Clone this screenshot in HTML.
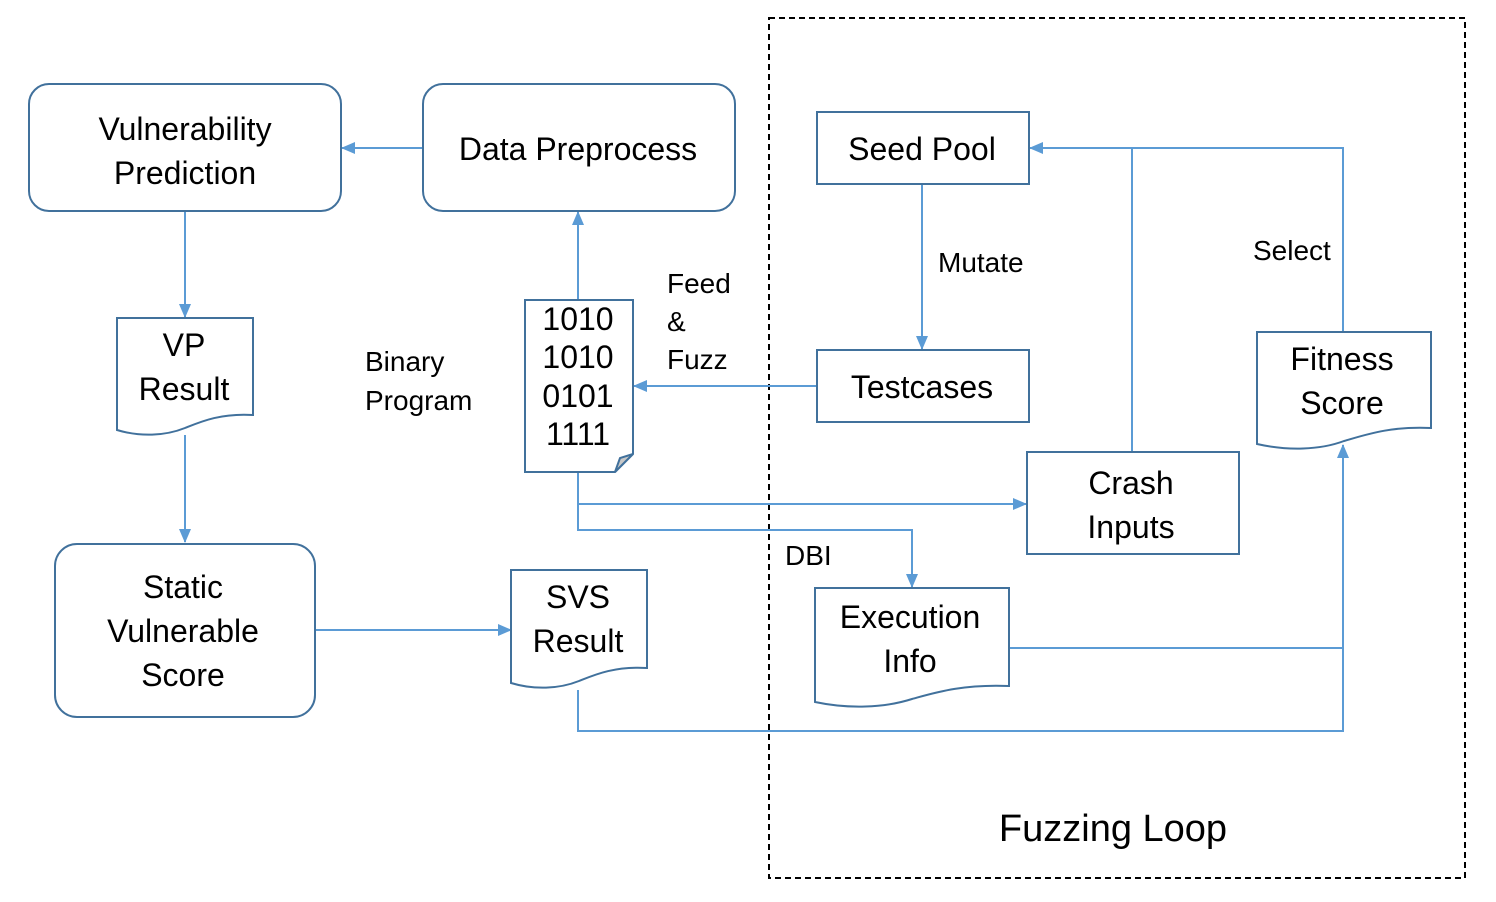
<!DOCTYPE html>
<html><head><style>body{margin:0;background:#fff}svg{display:block}text{font-family:"Liberation Sans",sans-serif;fill:#000}</style></head><body>
<svg width="1496" height="902" viewBox="0 0 1496 902" xmlns="http://www.w3.org/2000/svg">
<defs><marker id="a" markerWidth="14" markerHeight="12" refX="13" refY="6" orient="auto" markerUnits="userSpaceOnUse"><path d="M0,0 L14,6 L0,12 Z" fill="#5b9bd5"/></marker></defs>
<rect x="769" y="18" width="696" height="860" fill="none" stroke="#000" stroke-width="2" stroke-dasharray="6,4"/>
<g fill="none" stroke="#5b9bd5" stroke-width="2">
<line x1="423" y1="148" x2="342" y2="148" marker-end="url(#a)"/>
<line x1="185" y1="211" x2="185" y2="317" marker-end="url(#a)"/>
<line x1="185" y1="435" x2="185" y2="542" marker-end="url(#a)"/>
<line x1="315" y1="630" x2="511" y2="630" marker-end="url(#a)"/>
<line x1="578" y1="300" x2="578" y2="212" marker-end="url(#a)"/>
<line x1="817" y1="386" x2="634" y2="386" marker-end="url(#a)"/>
<line x1="922" y1="184" x2="922" y2="349" marker-end="url(#a)"/>
<polyline points="1132,452 1132,148"/>
<polyline points="1343,332 1343,148 1030,148" marker-end="url(#a)"/>
<polyline points="578,472 578,530 912,530 912,587" marker-end="url(#a)"/>
<line x1="578" y1="504" x2="1026" y2="504" marker-end="url(#a)"/>
<polyline points="1009,648 1343,648 1343,445" marker-end="url(#a)"/>
<polyline points="578,690 578,731 1343,731 1343,648"/>
</g>
<g fill="#fff" stroke="#41719c" stroke-width="2">
<rect x="29" y="84" width="312" height="127" rx="20"/>
<rect x="423" y="84" width="312" height="127" rx="20"/>
<rect x="55" y="544" width="260" height="173" rx="22"/>
<rect x="817" y="112" width="212" height="72"/>
<rect x="817" y="350" width="212" height="72"/>
<rect x="1027" y="452" width="212" height="102"/>
<path d="M117,318 H253 V415 C220,413 200,422 185,428 C165,436 140,437 117,430 Z"/>
<path d="M511,570 H647 V668 C614,666 594,675 579,681 C559,689 534,690 511,683 Z"/>
<path d="M815,588 H1009 V686 C962,684 934,693 912,699 C884,708 848,709 815,702 Z"/>
<path d="M1257,332 H1431 V428 C1390,426 1365,435 1344,441 C1320,450 1288,451 1257,444 Z"/>
<path d="M525,300 H633 V454 L615,472 H525 Z"/>
<path d="M615,472 L620,458 L633,454 Z" fill="#c8c8c8"/>
</g>
<g font-size="32" text-anchor="middle">
<text x="185" y="140">Vulnerability</text><text x="185" y="184">Prediction</text>
<text x="578" y="160">Data Preprocess</text>
<text x="184" y="356">VP</text><text x="184" y="400">Result</text>
<text x="183" y="598">Static</text><text x="183" y="642">Vulnerable</text><text x="183" y="686">Score</text>
<text x="578" y="608">SVS</text><text x="578" y="652">Result</text>
<text x="922" y="160">Seed Pool</text>
<text x="922" y="398">Testcases</text>
<text x="1131" y="494">Crash</text><text x="1131" y="538">Inputs</text>
<text x="910" y="628">Execution</text><text x="910" y="672">Info</text>
<text x="1342" y="370">Fitness</text><text x="1342" y="414">Score</text>
<text x="578" y="330">1010</text><text x="578" y="368">1010</text><text x="578" y="407">0101</text><text x="578" y="445">1111</text>
</g>
<g font-size="28">
<text x="365" y="371">Binary</text><text x="365" y="410">Program</text>
<text x="667" y="293">Feed</text><text x="667" y="331">&amp;</text><text x="667" y="369">Fuzz</text>
<text x="938" y="272">Mutate</text>
<text x="1253" y="260">Select</text>
<text x="785" y="565">DBI</text>
</g>
<text x="1113" y="841" font-size="38" text-anchor="middle">Fuzzing Loop</text>
</svg>
</body></html>
